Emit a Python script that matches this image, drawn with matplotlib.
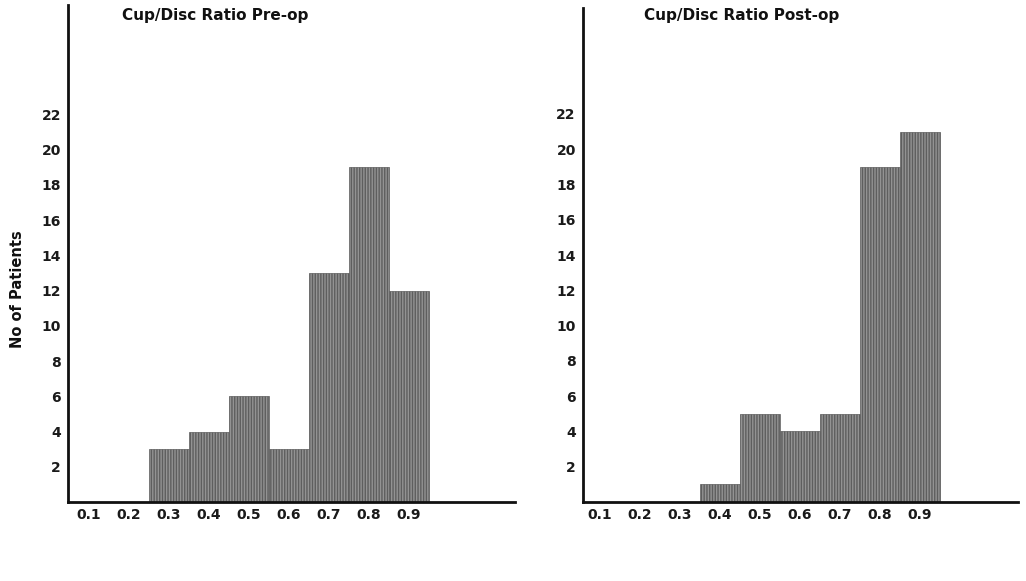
import matplotlib
matplotlib.use("Agg")
import matplotlib.pyplot as plt

# cup/disc ratio bins and patient counts
ratios = [0.1, 0.2, 0.3, 0.4, 0.5, 0.6, 0.7, 0.8, 0.9]
tick_labels = ["0.1", "0.2", "0.3", "0.4", "0.5", "0.6", "0.7", "0.8", "0.9"]
pre_op = [0, 0, 3, 4, 6, 3, 13, 19, 12]
post_op = [0, 0, 0, 1, 5, 4, 5, 19, 21]
y_ticks = [2, 4, 6, 8, 10, 12, 14, 16, 18, 20, 22]

plt.rcParams['font.family'] = ['DejaVu Sans']
plt.rcParams['font.weight'] = 'bold'
plt.rcParams['hatch.linewidth'] = 1.0
plt.rcParams['hatch.color'] = '#4a4a4a'

fig = plt.figure(figsize=(10.26, 5.81), dpi=100)
ax1 = fig.add_axes([0.0663, 0.136, 0.4357, 0.855])
ax2 = fig.add_axes([0.568, 0.136, 0.424, 0.850])


def draw(ax, counts, xlim, ytop):
    ax.bar(ratios, counts, width=0.1, color='#939393', edgecolor='#5e5e5e',
           linewidth=0.5, hatch='||||||', align='center')
    ax.set_xlim(*xlim)
    ax.set_ylim(0, ytop)
    ax.set_xticks(ratios)
    ax.set_xticklabels(tick_labels)
    ax.set_yticks(y_ticks)
    ax.tick_params(length=0, labelsize=10, pad=5, colors='#1a1a1a')
    ax.tick_params(axis='x', pad=4)
    for lab in ax.get_xticklabels() + ax.get_yticklabels():
        lab.set_fontweight('bold')
    for s in ['top', 'right']:
        ax.spines[s].set_visible(False)
    for s in ['left', 'bottom']:
        ax.spines[s].set_linewidth(2.0)
        ax.spines[s].set_color('#111111')


draw(ax1, pre_op, (0.0475, 1.165), 28.2)
draw(ax2, post_op, (0.0575, 1.145), 28.0)

fig.text(0.2096, 0.974, "Cup/Disc Ratio Pre-op", ha='center', va='center',
         fontsize=11, fontweight='bold', color='#111111')
fig.text(0.723, 0.974, "Cup/Disc Ratio Post-op", ha='center', va='center',
         fontsize=11, fontweight='bold', color='#111111')
fig.text(0.0175, 0.503, "No of Patients", rotation=90, ha='center', va='center',
         fontsize=10.5, fontweight='bold', color='#111111')

fig.savefig("out.png", dpi=100)
